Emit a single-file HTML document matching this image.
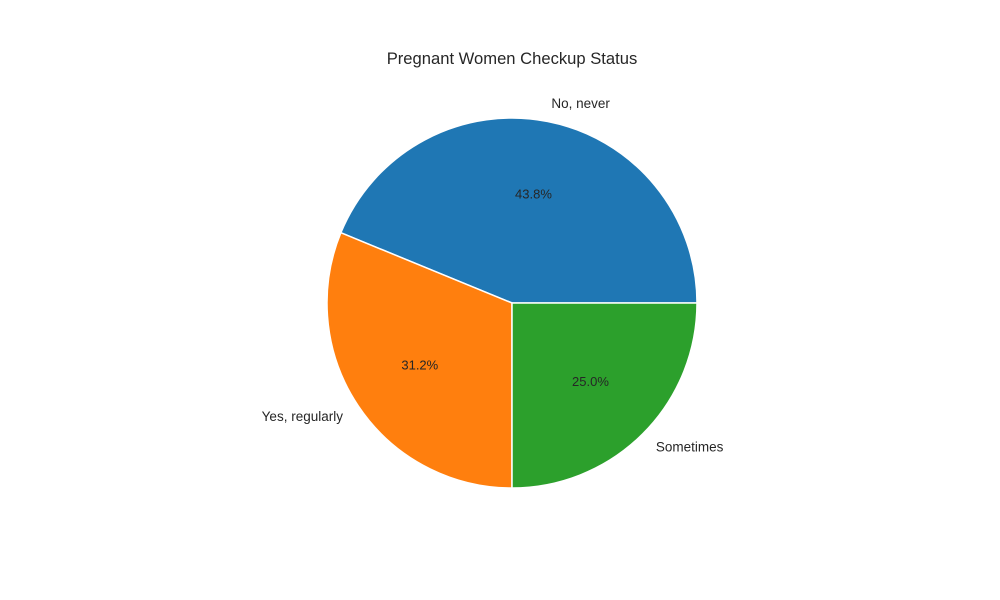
<!DOCTYPE html>
<html><head><meta charset="utf-8"><style>
html,body{margin:0;padding:0;background:#fff;}
svg{display:block;font-family:"Liberation Sans",Arial,sans-serif;}
</style></head><body>
<svg id="chart" width="1000" height="600" viewBox="0 0 1000 600">
<text x="512" y="64" text-anchor="middle" font-size="16.6" fill="#262626">Pregnant Women Checkup Status</text>
<g id="slices"></g>
</svg>
<script>
const categories = ["No, never", "Yes, regularly", "Sometimes"];
const values = [43.8, 31.2, 25.0];
const colors = ["#1f77b4", "#ff7f0e", "#2ca02c"];
const cx = 512, cy = 303, r = 185;
const g = document.getElementById('slices');
const ns = "http://www.w3.org/2000/svg";
const total = values.reduce((a,b)=>a+b,0);
function pt(angDeg, rad){ const a = angDeg*Math.PI/180; return [cx + rad*Math.cos(a), cy - rad*Math.sin(a)]; }
let start = 0;
values.forEach((v,i)=>{
  const sweep = v/total*360, end = start+sweep;
  const [x1,y1] = pt(start,r), [x2,y2] = pt(end,r);
  const p = document.createElementNS(ns,'path');
  p.setAttribute('d',`M${cx},${cy} L${x1},${y1} A${r},${r} 0 ${sweep>180?1:0} 0 ${x2},${y2} Z`);
  p.setAttribute('fill',colors[i]); p.setAttribute('stroke','#fff'); p.setAttribute('stroke-width','1.5');
  
  
  g.appendChild(p);
  const mid = start + sweep/2;
  const [lx,ly] = pt(mid, r*1.1);
  const t = document.createElementNS(ns,'text');
  t.setAttribute('x',lx); t.setAttribute('y',ly+4.5);
  t.setAttribute('text-anchor', Math.cos(mid*Math.PI/180) >= 0 ? 'start' : 'end');
  t.setAttribute('font-size','13.5'); t.setAttribute('fill','#262626');
  t.textContent = categories[i];
  
  
  g.appendChild(t);
  const [px,py] = pt(mid, r*0.6);
  const q = document.createElementNS(ns,'text');
  q.setAttribute('x',px); q.setAttribute('y',py+4.5);
  q.setAttribute('text-anchor','middle'); q.setAttribute('font-size','13'); q.setAttribute('fill','#262626');
  q.textContent = (v/total*100).toFixed(1)+'%';
  
  
  g.appendChild(q);
  start = end;
});
</script>
</body></html>
